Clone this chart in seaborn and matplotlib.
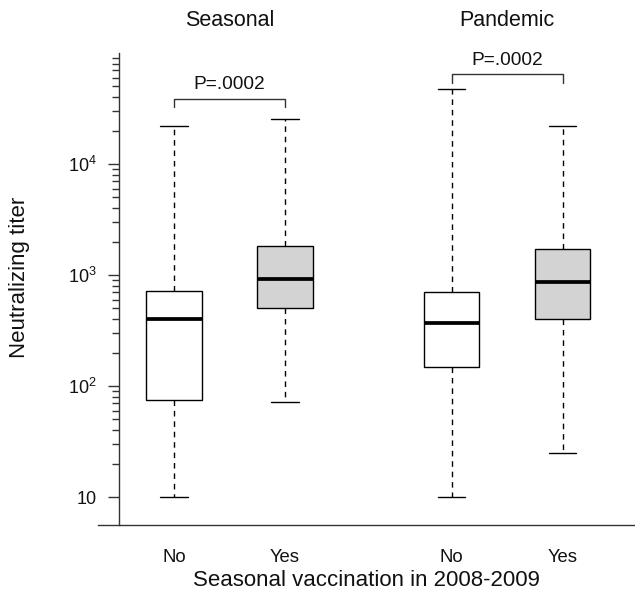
import numpy as np
import pandas as pd
import matplotlib
matplotlib.use("Agg")
import matplotlib.pyplot as plt
import matplotlib.transforms as mtransforms
from matplotlib.ticker import FixedLocator, NullFormatter
import seaborn as sns

# ---- data (five-number summaries) ----
groups = ["Seasonal", "Seasonal", "Pandemic", "Pandemic"]
vaccinated = ["No", "Yes", "No", "Yes"]
positions = [1.0, 2.0, 3.5, 4.5]
whisker_low = [10, 72, 10, 25]
q1 = [75, 500, 148, 404]
median = [399, 920, 367, 871]
q3 = [718, 1824, 703, 1715]
whisker_high = [22000, 25400, 47100, 22000]

p_labels = ["P=.0002", "P=.0002"]
bracket_top = [38500, 64300]
bracket_leg = [32800, 53900]
ytick_values = [10, 100, 1000, 10000]
ytick_labels = ["10", r"$10^2$", r"$10^3$", r"$10^4$"]

rows = []
for i in range(4):
    for v in (whisker_low[i], q1[i], median[i], q3[i], whisker_high[i]):
        rows.append({"pos": positions[i], "vacc": vaccinated[i], "titer": v})
df = pd.DataFrame(rows)

sns.set_style("ticks")
plt.rcParams["font.family"] = ["Liberation Sans", "DejaVu Sans"]
plt.rcParams["mathtext.fontset"] = "custom"
plt.rcParams["mathtext.rm"] = "Liberation Sans"
plt.rcParams["mathtext.it"] = "Liberation Sans:italic"
plt.rcParams["mathtext.bf"] = "Liberation Sans:bold"

W, H = 635, 594
fig = plt.figure(figsize=(W / 100, H / 100), dpi=100)
ax = fig.add_axes([98 / W, 69 / H, (W - 98) / W, (525 - 53) / H])

sns.boxplot(
    data=df, x="pos", y="titer", hue="vacc",
    palette={"No": "white", "Yes": "#d3d3d3"},
    native_scale=True, dodge=False, width=0.5, whis=(0, 100),
    log_scale=(False, True), linecolor="black", linewidth=1.0,
    medianprops={"linewidth": 2.7, "color": "black"},
    whiskerprops={"linestyle": (0, (4, 3.5)), "linewidth": 1.0, "color": "black"},
    capprops={"linewidth": 1.0, "color": "black"},
    legend=False, ax=ax,
)

ax.set_xlim(0.315, 5.153)
ax.set_ylim(10 ** 0.748, 1e5)

# spines
for s in ("top", "right"):
    ax.spines[s].set_visible(False)
ax.spines["left"].set_position(("data", 0.5))
ax.spines["left"].set_linewidth(1.0)
ax.spines["bottom"].set_linewidth(1.0)
ax.spines["left"].set_color("#333333")
ax.spines["bottom"].set_color("#333333")

# y ticks
ax.yaxis.set_major_locator(FixedLocator(ytick_values))
ax.set_yticklabels(ytick_labels)
minor = [m * 10 ** e for e in range(1, 5) for m in range(2, 10)]
ax.yaxis.set_minor_locator(FixedLocator(minor))
ax.yaxis.set_minor_formatter(NullFormatter())
ax.tick_params(axis="y", which="major", length=8, width=1.0, pad=8,
               labelsize=13, color="#333333", labelcolor="#111111")
ax.tick_params(axis="y", which="minor", length=5, width=1.0, color="#333333")

# x ticks
ax.set_xticks(positions)
ax.set_xticklabels(vaccinated)
ax.tick_params(axis="x", which="both", length=0, pad=17, labelsize=13.3,
               labelcolor="#111111")
ax.set_xlabel("Seasonal vaccination in 2008-2009", fontsize=16,
              labelpad=3, color="#111111")
ax.set_ylabel("")
fig.text(20 / W, 1 - 277 / H, "Neutralizing titer", rotation=90,
         ha="center", va="center", fontsize=16, color="#111111")

# group titles
trans = mtransforms.blended_transform_factory(ax.transData, fig.transFigure)
for k, name in enumerate(["Seasonal", "Pandemic"]):
    xc = (positions[2 * k] + positions[2 * k + 1]) / 2
    ax.text(xc, 1 - 21 / H, name, transform=trans, ha="center", va="center",
            fontsize=15.5, color="#111111")

# significance brackets
for k in range(2):
    x0, x1 = positions[2 * k], positions[2 * k + 1]
    ax.plot([x0, x0, x1, x1], [bracket_leg[k], bracket_top[k], bracket_top[k], bracket_leg[k]],
            color="#333333", lw=1.0, clip_on=False)
    ax.annotate(p_labels[k], xy=((x0 + x1) / 2, bracket_top[k]), xytext=(0, 4),
                textcoords="offset points", ha="center", va="bottom",
                fontsize=13.8, color="#111111")

fig.savefig("out.png", dpi=100)
